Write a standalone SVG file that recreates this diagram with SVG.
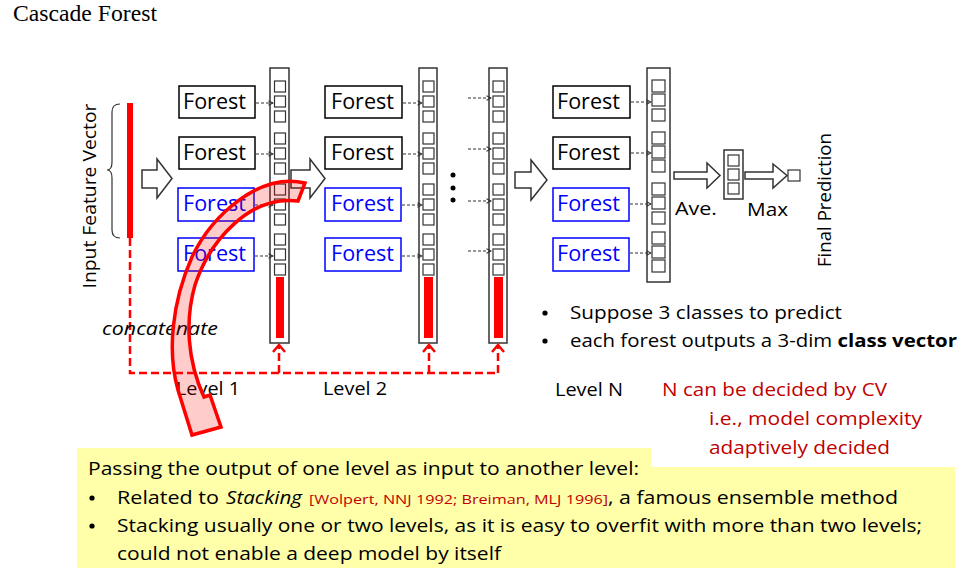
<svg xmlns="http://www.w3.org/2000/svg" width="964" height="572" viewBox="0 0 964 572">
<defs>
<marker id="ah" viewBox="0 0 8 8" refX="7" refY="4" markerWidth="6" markerHeight="6" markerUnits="userSpaceOnUse" orient="auto">
<path d="M1,1 L7,4 L1,7" fill="none" stroke="#333" stroke-width="1.4"/>
</marker>
</defs>
<style>
text{font-family:"Open Sans",Lato,"Liberation Sans",sans-serif;fill:#000}
.box{fill:#fff;stroke:#000;stroke-width:1.5}
.bbox{fill:#fff;stroke:#0000ff;stroke-width:1.5}
.ft{font-size:22px}
.blue{fill:#0000ff}
.col{fill:#fff;stroke:#333;stroke-width:1.5}
.sq{fill:#fff;stroke:#333;stroke-width:1.2}
.red{fill:#ff0000}
.dash{fill:none;stroke:#333;stroke-width:1.2;stroke-dasharray:3 2;marker-end:url(#ah)}
.rdash{fill:none;stroke:#ff0000;stroke-width:2.5;stroke-dasharray:8 4}
.chev{fill:none;stroke:#ff0000;stroke-width:2.5}
.harrow{fill:#fff;stroke:#333;stroke-width:1.5}
.lbl{font-size:18.5px}
.rt{font-size:18.5px;fill:#c00000}
.yt{font-size:18.5px}
</style>

<text x="13" y="21" style="font-family:'Liberation Serif',serif;font-size:23px" textLength="144" lengthAdjust="spacingAndGlyphs">Cascade Forest</text>

<g id="input">
<path d="M120,104 Q112,104 112,112 L112,162 Q112,170 107,170 Q112,170 112,178 L112,230 Q112,238 120,238" fill="none" stroke="#333" stroke-width="1.2"/>
<rect x="127" y="103" width="6" height="135" class="red"/>
<text transform="translate(96,196) rotate(-90)" text-anchor="middle" style="font-size:18.5px" textLength="185" lengthAdjust="spacingAndGlyphs">Input Feature Vector</text>
</g>

<g id="level1">
<rect x="179" y="86" width="76" height="32" class="box"/><text x="183" y="109" class="ft" textLength="63" lengthAdjust="spacingAndGlyphs">Forest</text>
<rect x="179" y="137" width="76" height="32" class="box"/><text x="183" y="160" class="ft" textLength="63" lengthAdjust="spacingAndGlyphs">Forest</text>
<rect x="178" y="188" width="76" height="33" class="bbox"/><text x="183" y="211" class="ft blue" textLength="63" lengthAdjust="spacingAndGlyphs">Forest</text>
<rect x="178" y="238" width="76" height="33" class="bbox"/><text x="183" y="261" class="ft blue" textLength="63" lengthAdjust="spacingAndGlyphs">Forest</text>
</g>

<g id="col1">
<rect x="270" y="68" width="19" height="275" class="col"/>
<rect x="274.5" y="81" width="11" height="11" class="sq"/><rect x="274.5" y="96" width="11" height="11" class="sq"/><rect x="274.5" y="111" width="11" height="11" class="sq"/>
<rect x="274.5" y="133" width="11" height="11" class="sq"/><rect x="274.5" y="148" width="11" height="11" class="sq"/><rect x="274.5" y="163" width="11" height="11" class="sq"/>
<rect x="274.5" y="184" width="11" height="11" class="sq"/><rect x="274.5" y="199" width="11" height="11" class="sq"/><rect x="274.5" y="214" width="11" height="11" class="sq"/>
<rect x="274.5" y="234" width="11" height="11" class="sq"/><rect x="274.5" y="249" width="11" height="11" class="sq"/><rect x="274.5" y="264" width="11" height="11" class="sq"/>
<rect x="276" y="277" width="8" height="61" class="red"/>
</g>

<g id="level2">
<rect x="325" y="86" width="77" height="32" class="box"/><text x="331" y="109" class="ft" textLength="63" lengthAdjust="spacingAndGlyphs">Forest</text>
<rect x="325" y="137" width="77" height="32" class="box"/><text x="331" y="160" class="ft" textLength="63" lengthAdjust="spacingAndGlyphs">Forest</text>
<rect x="325" y="188" width="76" height="33" class="bbox"/><text x="331" y="211" class="ft blue" textLength="63" lengthAdjust="spacingAndGlyphs">Forest</text>
<rect x="325" y="238" width="76" height="33" class="bbox"/><text x="331" y="261" class="ft blue" textLength="63" lengthAdjust="spacingAndGlyphs">Forest</text>
</g>

<g id="col2">
<rect x="419" y="68" width="18" height="275" class="col"/>
<rect x="423" y="81" width="11" height="11" class="sq"/><rect x="423" y="96" width="11" height="11" class="sq"/><rect x="423" y="111" width="11" height="11" class="sq"/>
<rect x="423" y="133" width="11" height="11" class="sq"/><rect x="423" y="148" width="11" height="11" class="sq"/><rect x="423" y="163" width="11" height="11" class="sq"/>
<rect x="423" y="184" width="11" height="11" class="sq"/><rect x="423" y="199" width="11" height="11" class="sq"/><rect x="423" y="214" width="11" height="11" class="sq"/>
<rect x="423" y="234" width="11" height="11" class="sq"/><rect x="423" y="249" width="11" height="11" class="sq"/><rect x="423" y="264" width="11" height="11" class="sq"/>
<rect x="424" y="277" width="9" height="61" class="red"/>
</g>

<g id="ellipsis">
<circle cx="453" cy="175" r="2.5"/><circle cx="453" cy="188" r="2.5"/><circle cx="453" cy="200" r="2.5"/>
</g>

<g id="col3">
<rect x="489" y="68" width="18" height="275" class="col"/>
<rect x="493" y="81" width="11" height="11" class="sq"/><rect x="493" y="96" width="11" height="11" class="sq"/><rect x="493" y="111" width="11" height="11" class="sq"/>
<rect x="493" y="133" width="11" height="11" class="sq"/><rect x="493" y="148" width="11" height="11" class="sq"/><rect x="493" y="163" width="11" height="11" class="sq"/>
<rect x="493" y="184" width="11" height="11" class="sq"/><rect x="493" y="199" width="11" height="11" class="sq"/><rect x="493" y="214" width="11" height="11" class="sq"/>
<rect x="493" y="234" width="11" height="11" class="sq"/><rect x="493" y="249" width="11" height="11" class="sq"/><rect x="493" y="264" width="11" height="11" class="sq"/>
<rect x="494" y="277" width="9" height="61" class="red"/>
</g>

<g id="levelN">
<rect x="553" y="86" width="77" height="32" class="box"/><text x="557" y="109" class="ft" textLength="63" lengthAdjust="spacingAndGlyphs">Forest</text>
<rect x="553" y="137" width="77" height="32" class="box"/><text x="557" y="160" class="ft" textLength="63" lengthAdjust="spacingAndGlyphs">Forest</text>
<rect x="553" y="188" width="76" height="33" class="bbox"/><text x="557" y="211" class="ft blue" textLength="63" lengthAdjust="spacingAndGlyphs">Forest</text>
<rect x="553" y="238" width="76" height="33" class="bbox"/><text x="557" y="261" class="ft blue" textLength="63" lengthAdjust="spacingAndGlyphs">Forest</text>
</g>

<g id="colN">
<rect x="647" y="68" width="23" height="214" class="col"/>
<rect x="652" y="80" width="13" height="12" class="sq"/><rect x="652" y="94" width="13" height="12" class="sq"/><rect x="652" y="109" width="13" height="12" class="sq"/>
<rect x="652" y="132" width="13" height="12" class="sq"/><rect x="652" y="146" width="13" height="12" class="sq"/><rect x="652" y="160" width="13" height="12" class="sq"/>
<rect x="652" y="183" width="13" height="12" class="sq"/><rect x="652" y="197" width="13" height="12" class="sq"/><rect x="652" y="212" width="13" height="12" class="sq"/>
<rect x="652" y="232" width="13" height="12" class="sq"/><rect x="652" y="246" width="13" height="12" class="sq"/><rect x="652" y="260" width="13" height="12" class="sq"/>
</g>

<g id="average">
<rect x="724" y="150" width="19" height="49" class="col"/>
<rect x="728" y="155" width="11" height="11" class="sq"/><rect x="728" y="169" width="11" height="11" class="sq"/><rect x="728" y="183" width="11" height="11" class="sq"/>
<text x="675" y="215" class="lbl" textLength="42" lengthAdjust="spacingAndGlyphs">Ave.</text>
</g>

<g id="final">
<rect x="788" y="170" width="12" height="11" class="sq"/>
<text x="747" y="216" class="lbl" textLength="41" lengthAdjust="spacingAndGlyphs">Max</text>
<text transform="translate(831,200) rotate(-90)" text-anchor="middle" style="font-size:18px" textLength="134" lengthAdjust="spacingAndGlyphs">Final Prediction</text>
</g>

<g id="connectors">
<path class="harrow" d="M142,170 L157,170 L157,159 L172,178.5 L157,198 L157,188 L142,188 Z"/>
<path class="harrow" d="M291,170 L310,170 L310,159 L325,178.5 L310,198 L310,188 L291,188 Z"/>
<path class="harrow" d="M515,172 L531,172 L531,160 L547,180 L531,200 L531,188 L515,188 Z"/>
<path class="harrow" d="M674,172 L707,172 L707,163 L720,175.5 L707,188 L707,179 L674,179 Z"/>
<path class="harrow" d="M745,172 L773,172 L773,164 L787,175.5 L773,188 L773,179 L745,179 Z"/>

<path class="dash" d="M256,103 L273,103"/><path class="dash" d="M256,154 L273,154"/><path class="dash" d="M255,205 L273,205"/><path class="dash" d="M255,256 L273,256"/>
<path class="dash" d="M403,103 L422,103"/><path class="dash" d="M403,154 L422,154"/><path class="dash" d="M402,205 L422,205"/><path class="dash" d="M402,256 L422,256"/>
<path class="dash" d="M468,98 L491,98"/><path class="dash" d="M468,149 L491,149"/><path class="dash" d="M468,201 L491,201"/><path class="dash" d="M468,251 L491,251"/>
<path class="dash" d="M631,102 L651,102"/><path class="dash" d="M631,153 L651,153"/><path class="dash" d="M630,204 L651,204"/><path class="dash" d="M630,253 L651,253"/>

<path class="rdash" d="M130,238 L130,373 L498,373"/>
<path class="rdash" d="M279,373 L279,345"/><path class="rdash" d="M429,373 L429,345"/><path class="rdash" d="M498,373 L498,345"/>
<polyline class="chev" points="273,352 279,345 285,352"/>
<polyline class="chev" points="423,352 429,345 435,352"/>
<polyline class="chev" points="492,352 498,345 504,352"/>
</g>

<text x="102" y="335" style="font-size:18.5px;font-style:italic" textLength="116" lengthAdjust="spacingAndGlyphs">concatenate</text>

<g id="labels">
<text x="176" y="395" class="lbl" textLength="64" lengthAdjust="spacingAndGlyphs">Level 1</text>
<text x="323" y="395" class="lbl" textLength="64" lengthAdjust="spacingAndGlyphs">Level 2</text>
<text x="555" y="396" class="lbl" textLength="68" lengthAdjust="spacingAndGlyphs">Level N</text>
</g>

<g id="bullets">
<circle cx="545" cy="313" r="2.6"/>
<text x="570" y="319" class="lbl" textLength="272" lengthAdjust="spacingAndGlyphs">Suppose 3 classes to predict</text>
<circle cx="545" cy="341" r="2.6"/>
<text x="570" y="347" class="lbl" textLength="387" lengthAdjust="spacingAndGlyphs">each forest outputs a 3-dim <tspan style="font-weight:bold">class vector</tspan></text>
</g>

<g id="note">
<path d="M77,448 L651,448 L651,467 L955,467 L955,568 L77,568 Z" fill="#ffffaa"/>
<text x="662" y="396" class="rt" textLength="225" lengthAdjust="spacingAndGlyphs">N can be decided by CV</text>
<text x="709" y="425" class="rt" textLength="213" lengthAdjust="spacingAndGlyphs">i.e., model complexity</text>
<text x="709" y="454" class="rt" textLength="181" lengthAdjust="spacingAndGlyphs">adaptively decided</text>
<text x="88" y="475" class="yt" textLength="551" lengthAdjust="spacingAndGlyphs">Passing the output of one level as input to another level:</text>
<circle cx="92" cy="498" r="2.6"/>
<text x="117" y="504" class="yt" textLength="102" lengthAdjust="spacingAndGlyphs">Related to</text>
<text x="226" y="504" class="yt" style="font-style:italic" textLength="76" lengthAdjust="spacingAndGlyphs">Stacking</text>
<text x="309" y="504" style="font-size:13.5px;fill:#c00000" textLength="299" lengthAdjust="spacingAndGlyphs">[Wolpert, NNJ 1992; Breiman, MLJ 1996]</text>
<text x="608" y="504" class="yt" textLength="290" lengthAdjust="spacingAndGlyphs">, a famous ensemble method</text>
<circle cx="92" cy="526" r="2.6"/>
<text x="117" y="532" class="yt" textLength="805" lengthAdjust="spacingAndGlyphs">Stacking usually one or two levels, as it is easy to overfit with more than two levels;</text>
<text x="117" y="560" class="yt" textLength="384" lengthAdjust="spacingAndGlyphs">could not enable a deep model by itself</text>
</g>

<g id="curved-arrow">
<path d="M305,183 C260,172 212,215 192,257 C172,302 167,352 178,390 L192,435 L221,427 L210,395 L204,397 C187,360 185,320 195,285 C210,240 250,195 298,201 Z" fill="#ff0000" fill-opacity="0.2" stroke="#ff0000" stroke-width="3.5" stroke-linejoin="miter"/>
</g>
</svg>
